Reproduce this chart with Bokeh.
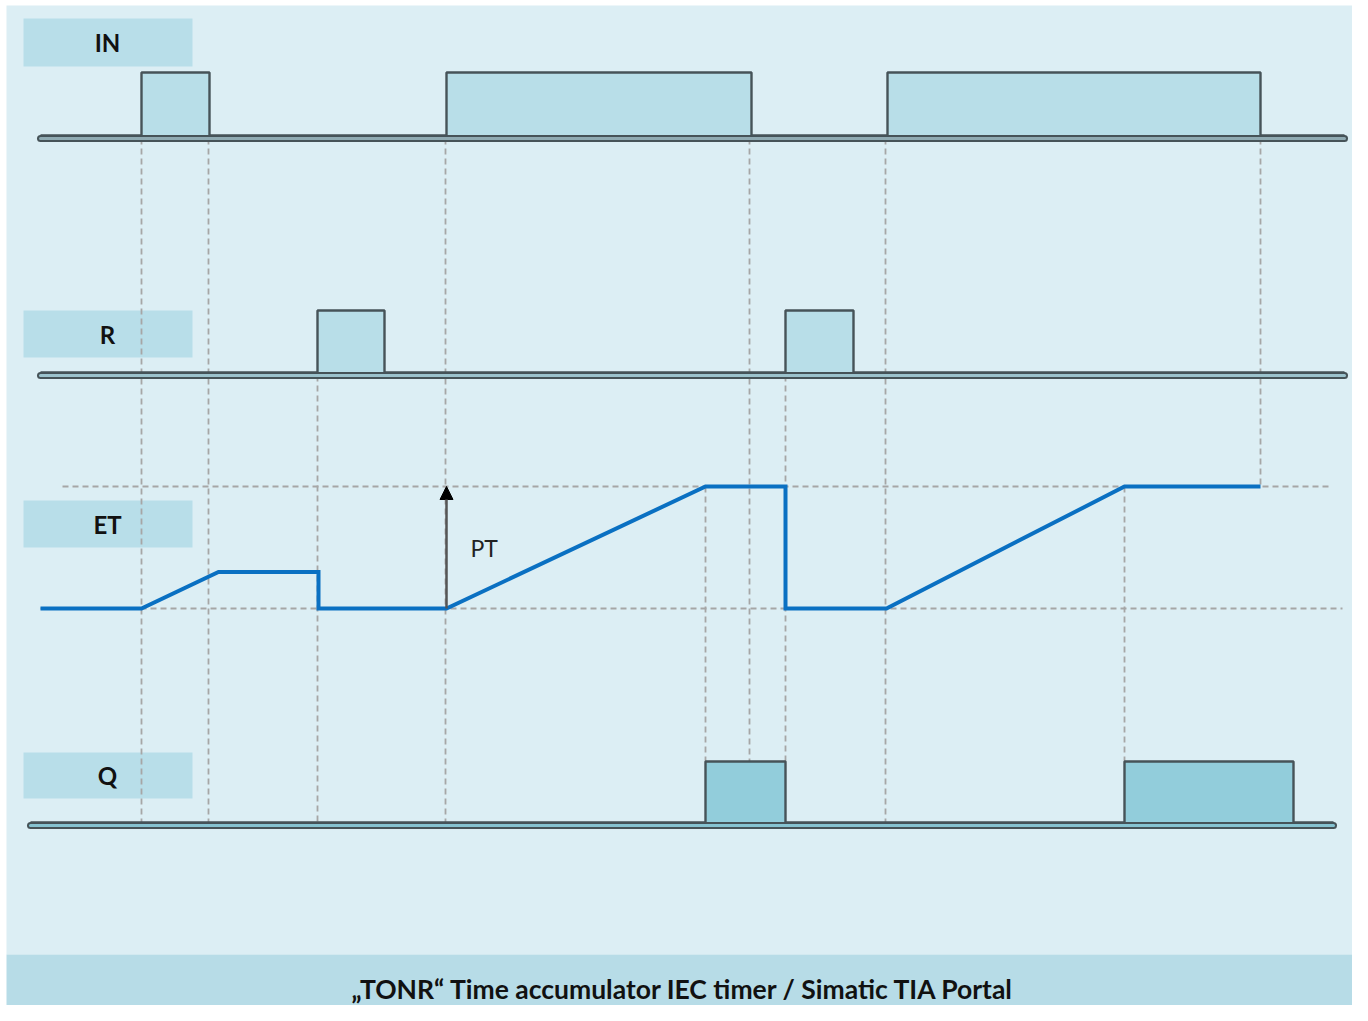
from bokeh.plotting import figure
from bokeh.models import Range1d, Arrow, NormalHead
from bokeh.core.properties import value
from bokeh.embed import file_html
from bokeh.resources import INLINE

# ---------------- data (time units) ----------------
T_START, T_END = 0.0, 130.4          # span of the IN / R traces
Q_START, Q_END = -1.0, 129.3         # span of the Q trace
IN_RISE = [10.1, 40.6, 84.7]
IN_FALL = [16.9, 71.1, 122.0]
R_RISE = [27.7, 74.5]
R_FALL = [34.4, 81.3]
Q_RISE = [66.5, 108.4]
Q_FALL = [74.5, 125.3]
ET_T = [0.0, 10.1, 17.8, 27.8, 27.8, 40.6, 66.5, 74.5, 74.5, 84.6, 108.4, 122.0]
ET_V = [0.0, 0.0, 0.30, 0.30, 0.0, 0.0, 1.0, 1.0, 0.0, 0.0, 1.0, 1.0]   # fraction of PT
PT = 1.0
SIGNAL_LABELS = ["IN", "R", "ET", "Q"]
TITLE = "\u201eTONR\u201c Time accumulator IEC timer / Simatic TIA Portal"

# ---------------- layout ----------------
W, H = 1352, 1005
LANE = {"IN": (138, 66), "R": (375, 65), "ET": (608, 122), "Q": (825, 64)}  # baseline, amplitude
LABEL_BOX = {"IN": (18, 66), "R": (310, 357), "ET": (500, 547), "Q": (752, 798)}
BOX_L, BOX_R, BOX_TXT = -1.7, 15.2, 6.7
X0, X1 = -4.0, 131.2

BG = "#DCEEF4"
BOX = "#B8DEE9"
PULSE_FILL = "#B8DEE8"
Q_FILL = "#92CDDB"
DARK = "#465358"
GUIDE = "#A6A6A6"
BLUE = "#0A70C2"

p = figure(width=W, height=H, output_backend="svg", toolbar_location=None,
           x_range=Range1d(X0, X1), y_range=Range1d(H, 0),
           background_fill_color="white", border_fill_color="white", min_border=0)
p.axis.visible = False
p.grid.visible = False
p.outline_line_color = None

# panel background and footer band
p.quad(left=[-3.4], right=[X1 + 1], top=[5], bottom=[954], fill_color=BG, line_color=None)
p.quad(left=[-3.4], right=[X1 + 1], top=[954], bottom=[H + 1], fill_color="#B7DCE7", line_color=None)
p.text(x=[64.3], y=[988], text=[TITLE], text_font=value("Lato"), text_font_style="bold",
       text_font_size="26.5px", text_align="center", text_baseline="middle", text_color="#111111")

# label boxes
for name in SIGNAL_LABELS:
    top, bot = LABEL_BOX[name]
    p.quad(left=[BOX_L], right=[BOX_R], top=[top], bottom=[bot], fill_color=BOX, line_color=None)
    p.text(x=[BOX_TXT], y=[(top + bot) / 2], text=[name], text_font=value("Lato"),
           text_font_style="bold", text_font_size="24px", text_align="center",
           text_baseline="middle", text_color="#111111")

# dashed guide lines
et_base, et_amp = LANE["ET"]
pt_y = et_base - et_amp * PT
q_top = LANE["Q"][0] - LANE["Q"][1]
guides = [(10.1, LANE["IN"][0], LANE["Q"][0]), (16.8, LANE["IN"][0], LANE["Q"][0]),
          (27.7, LANE["R"][0], LANE["Q"][0]), (40.5, LANE["IN"][0], LANE["Q"][0]),
          (70.9, LANE["IN"][0], q_top), (66.5, pt_y, q_top),
          (74.5, LANE["R"][0], q_top), (84.5, LANE["IN"][0], LANE["Q"][0]),
          (108.4, pt_y, q_top), (122.0, LANE["IN"][0], pt_y)]
p.segment(x0=[g[0] for g in guides], y0=[g[1] for g in guides],
          x1=[g[0] for g in guides], y1=[g[2] for g in guides],
          line_color=GUIDE, line_width=1.8, line_dash="6 4")
p.segment(x0=[2.2, 0.0], y0=[pt_y, et_base], x1=[129.0, 130.2], y1=[pt_y, et_base],
          line_color=GUIDE, line_width=1.8, line_dash="6 4")


def binary(name, rises, falls, t0, t1, fill, inner):
    base, amp = LANE[name]
    high = base - amp
    top = base - 3
    p.quad(left=rises, right=falls, top=[high] * len(rises), bottom=[base] * len(rises),
           fill_color=fill, line_color=None)
    p.line([t0, t1], [base, base], line_color=DARK, line_width=7, line_cap="round")
    p.line([t0, t1], [base, base], line_color=inner, line_width=3, line_cap="round")
    xs, ys = [t0], [top]
    for r, f in zip(rises, falls):
        xs += [r, r, f, f]
        ys += [top, high, high, top]
    xs.append(t1)
    ys.append(top)
    p.line(xs, ys, line_color=DARK, line_width=2.4)


binary("IN", IN_RISE, IN_FALL, T_START, T_END, PULSE_FILL, "#8FAAB2")
binary("R", R_RISE, R_FALL, T_START, T_END, PULSE_FILL, "#9CC3CD")
binary("Q", Q_RISE, Q_FALL, Q_START, Q_END, Q_FILL, "#86C3D1")

# ET trace
p.line(ET_T, [et_base - et_amp * v for v in ET_V], line_color=BLUE, line_width=4, line_join="miter")

# PT arrow
p.add_layout(Arrow(end=NormalHead(size=13, fill_color="black", line_color="black"),
                   x_start=40.6, y_start=et_base, x_end=40.6, y_end=pt_y,
                   line_color="#555555", line_width=2.5))
p.text(x=[43.0], y=[547], text=["PT"], text_font=value("Lato"), text_font_size="23px",
       text_align="left", text_baseline="middle", text_color="#222222")

open("out.html", "w").write(file_html(p, INLINE))
